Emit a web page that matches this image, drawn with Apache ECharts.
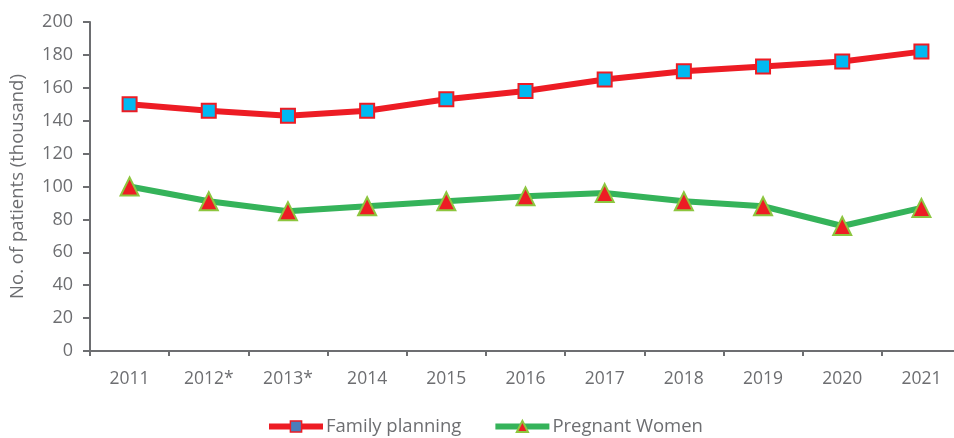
<!DOCTYPE html>
<html>
<head>
<meta charset="utf-8">
<script src="https://cdn.jsdelivr.net/npm/echarts@6/dist/echarts.min.js"></script>
<style>
  html, body { margin: 0; padding: 0; background: #fff; }
  #chart { width: 954px; height: 438px; }
</style>
</head>
<body>
<div id="chart"></div>
<script>
// data
var years = ['2011', '2012*', '2013*', '2014', '2015', '2016', '2017', '2018', '2019', '2020', '2021'];
var familyPlanning = [150, 146, 143, 146, 153, 158, 165, 170, 173, 176, 182];
var pregnantWomen = [100, 91, 85, 88, 91, 94, 96, 91, 88, 76, 87];

var gray = '#6d6e71';
var font = '"Open Sans", "Noto Sans", sans-serif';

var chart = echarts.init(document.getElementById('chart'));
var option = {
  animation: false,
  textStyle: { fontFamily: font },
  grid: {
    left: 90,
    width: 871,
    top: 22,
    bottom: 87,
    outerBoundsMode: 'none'
  },
  legend: {
    bottom: -3,
    left: 261,
    itemWidth: 54,
    itemHeight: 14,
    itemGap: 31,
    lineStyle: { width: 6 },
    textStyle: { color: gray, fontSize: 18.5, fontFamily: font, padding: [0, 0, 0, -2] },
    data: [
      { name: 'Family planning', itemStyle: { color: '#4a7ebb', borderColor: '#ed1c24', borderWidth: 1.5 } },
      { name: 'Pregnant Women' }
    ]
  },
  xAxis: {
    type: 'category',
    data: years,
    boundaryGap: true,
    axisLine: { lineStyle: { color: gray, width: 2 } },
    axisTick: { show: true, length: 5, lineStyle: { color: gray, width: 2 } },
    axisLabel: { color: gray, fontSize: 17.5, margin: 19 }
  },
  yAxis: {
    type: 'value',
    min: 0,
    max: 200,
    interval: 20,
    name: 'No. of patients (thousand)',
    nameLocation: 'middle',
    nameGap: 63,
    nameTextStyle: { color: gray, fontSize: 18.5 },
    axisLine: { show: true, lineStyle: { color: gray, width: 2 } },
    axisTick: { show: true, length: 7, lineStyle: { color: gray, width: 2 } },
    axisLabel: { color: gray, fontSize: 18, margin: 17 },
    splitLine: { show: false }
  },
  series: [
    {
      name: 'Family planning',
      type: 'line',
      data: familyPlanning,
      symbol: 'rect',
      symbolSize: 14,
      lineStyle: { color: '#ed1c24', width: 6 },
      itemStyle: { color: '#00b9f1', borderColor: '#ed1c24', borderWidth: 2 }
    },
    {
      name: 'Pregnant Women',
      type: 'line',
      data: pregnantWomen,
      symbol: 'triangle',
      symbolSize: 18,
      lineStyle: { color: '#35b35a', width: 6 },
      itemStyle: { color: '#ed1c24', borderColor: '#8dc63f', borderWidth: 2 }
    }
  ]
};
chart.setOption(option);
</script>
</body>
</html>
